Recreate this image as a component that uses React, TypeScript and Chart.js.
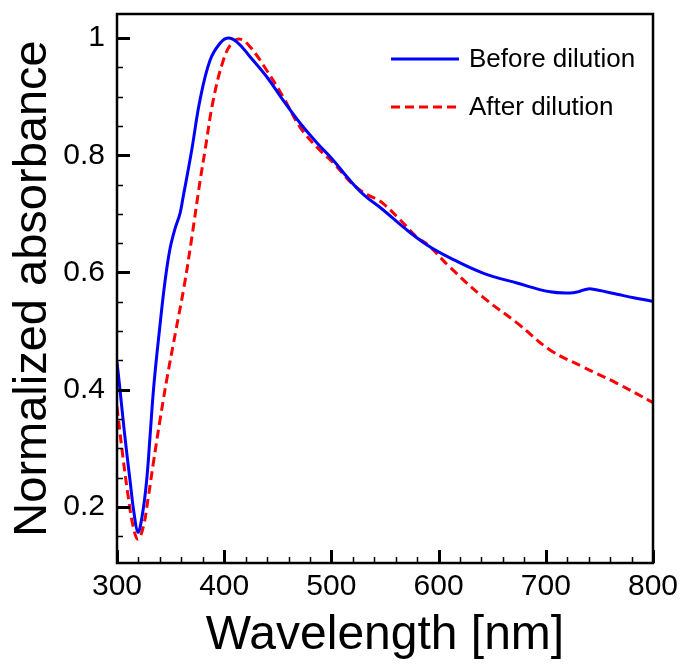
import React, { useEffect, useRef } from "react";
import { Chart, registerables } from "chart.js";

Chart.register(...registerables);

// ---- Data ----
const beforeWavelength = [
  300, 302.8, 307, 312.1, 316, 319.6, 323.5, 327.7, 330.8, 334.5, 340.1, 344.8, 349.4, 354,
  358.8, 362, 365.5, 370, 377.4, 386.8, 396.1, 403.5, 412, 424.1, 440, 454.9, 470.7, 486.6,
  501.5, 515.5, 530, 548.1, 568, 589.2, 610.6, 641.4, 673.1, 703.9, 722.6, 730, 739.4, 748,
  766.4, 782, 799.1, 800,
];
const beforeAbsorbance = [
  0.447, 0.4, 0.326, 0.246, 0.188, 0.157, 0.185, 0.246, 0.32, 0.41, 0.51, 0.585, 0.64,
  0.674, 0.701, 0.732, 0.766, 0.812, 0.894, 0.962, 0.991, 1.0, 0.993, 0.968, 0.933, 0.894,
  0.855, 0.821, 0.792, 0.761, 0.733, 0.707, 0.676, 0.647, 0.625, 0.599, 0.582, 0.567, 0.565,
  0.567, 0.572, 0.57, 0.563, 0.557, 0.551, 0.55,
];

const afterWavelength = [
  300, 304.4, 310.5, 315.2, 319.6, 324.5, 329.2, 333.9, 340.1, 346.4, 355, 362.5, 369, 377.4,
  382.1, 389.8, 399.2, 407, 414.7, 424.1, 439.6, 455.1, 470.7, 486.3, 501.8, 515.8, 525,
  534.1, 541, 548.1, 564, 579.9, 590.1, 610.6, 641.4, 673.1, 703.9, 734.7, 766.4, 799.1, 800,
];
const afterAbsorbance = [
  0.371, 0.302, 0.217, 0.166, 0.145, 0.166, 0.217, 0.275, 0.348, 0.417, 0.502, 0.575, 0.65,
  0.755, 0.808, 0.894, 0.962, 0.991, 0.998, 0.985, 0.945, 0.899, 0.848, 0.814, 0.787, 0.758,
  0.743, 0.732, 0.726, 0.718, 0.69, 0.66, 0.647, 0.609, 0.558, 0.514, 0.468, 0.439, 0.411,
  0.379, 0.378,
];

const seriesLabels = ["Before dilution", "After dilution"];
const xTitle = "Wavelength [nm]";
const yTitle = "Normalized absorbance";

const xMajorTicks = [300, 400, 500, 600, 700, 800];
const xMinorTicks = [
  320, 340, 360, 380, 420, 440, 460, 480, 520, 540, 560, 580, 620, 640, 660, 680, 720, 740, 760,
  780,
];
const yMajorTicks = [0.2, 0.4, 0.6, 0.8, 1];
const yMinorTicks = [0.15, 0.25, 0.3, 0.35, 0.45, 0.5, 0.55, 0.65, 0.7, 0.75, 0.85, 0.9, 0.95];

const FONT = "'Liberation Sans', Arial, Helvetica, sans-serif";

const framePlugin = {
  id: "frameTicks",
  afterDatasetsDraw(chart: any) {
    const { ctx, chartArea } = chart;
    const xs = chart.scales.x;
    const ys = chart.scales.y;
    const { left, right, top, bottom } = chartArea;
    ctx.save();
    ctx.strokeStyle = "#000";
    ctx.lineCap = "butt";
    const drawX = (vals: number[], len: number, w: number) => {
      ctx.lineWidth = w;
      ctx.beginPath();
      for (const v of vals) {
        const px = Math.round(xs.getPixelForValue(v)) + 0.5;
        ctx.moveTo(px, bottom);
        ctx.lineTo(px, bottom - len);
      }
      ctx.stroke();
    };
    const drawY = (vals: number[], len: number, w: number) => {
      ctx.lineWidth = w;
      ctx.beginPath();
      for (const v of vals) {
        const py = Math.round(ys.getPixelForValue(v)) + 0.5;
        ctx.moveTo(left, py);
        ctx.lineTo(left + len, py);
      }
      ctx.stroke();
    };
    drawX(xMinorTicks, 6, 1.5);
    drawX(xMajorTicks, 13, 3);
    drawY(yMinorTicks, 6, 1.5);
    drawY(yMajorTicks, 13, 3);
    ctx.lineWidth = 2.5;
    ctx.strokeRect(left, top, right - left, bottom - top);
    ctx.restore();
  },
};

const legendPlugin = {
  id: "customLegend",
  afterDraw(chart: any) {
    const { ctx } = chart;
    const rows = [59, 107];
    ctx.save();
    chart.data.datasets.forEach((ds: any, i: number) => {
      const y = rows[i];
      ctx.strokeStyle = ds.borderColor;
      ctx.lineWidth = ds.borderWidth;
      ctx.setLineDash(ds.borderDash || []);
      ctx.beginPath();
      ctx.moveTo(391, y);
      ctx.lineTo(459, y);
      ctx.stroke();
      ctx.setLineDash([]);
      ctx.fillStyle = "#000";
      ctx.font = `26px ${FONT}`;
      ctx.textAlign = "left";
      ctx.textBaseline = "middle";
      ctx.fillText(ds.label, 469, y + 1);
    });
    ctx.restore();
  },
};

export default function App() {
  const ref = useRef<HTMLCanvasElement | null>(null);

  useEffect(() => {
    if (!ref.current) return;
    const chart = new Chart(ref.current, {
      type: "line",
      data: {
        datasets: [
          {
            label: seriesLabels[0],
            data: beforeWavelength.map((x, i) => ({ x, y: beforeAbsorbance[i] })),
            borderColor: "#0000ff",
            borderWidth: 3,
            pointRadius: 0,
            tension: 0.4,
            fill: false,
          },
          {
            label: seriesLabels[1],
            data: afterWavelength.map((x, i) => ({ x, y: afterAbsorbance[i] })),
            borderColor: "#ff0000",
            borderWidth: 3,
            borderDash: [9, 5],
            pointRadius: 0,
            tension: 0.4,
            fill: false,
          },
        ],
      },
      options: {
        responsive: false,
        animation: false,
        devicePixelRatio: 1,
        layout: { padding: { left: 0, top: 14, right: 31, bottom: 0 } },
        plugins: {
          legend: { display: false },
          tooltip: { enabled: false },
        },
        scales: {
          x: {
            type: "linear",
            min: 300,
            max: 800,
            afterFit: (s: any) => {
              s.height = 101;
              s.paddingLeft = 0;
              s.paddingRight = 0;
            },
            afterBuildTicks: (s: any) => {
              s.ticks = xMajorTicks.map((v) => ({ value: v }));
            },
            grid: { display: false, drawTicks: false },
            border: { display: false },
            ticks: {
              autoSkip: false,
              maxRotation: 0,
              padding: 6,
              color: "#000",
              font: { family: FONT, size: 30 },
              callback: (v: any) => String(v),
            },
            title: {
              display: true,
              text: xTitle,
              color: "#000",
              font: { family: FONT, size: 48, lineHeight: 1 },
              padding: { top: 0, bottom: 4 },
            },
          },
          y: {
            type: "linear",
            min: 0.1045,
            max: 1.0409,
            afterFit: (s: any) => {
              s.width = 117;
              s.paddingTop = 0;
              s.paddingBottom = 0;
            },
            afterBuildTicks: (s: any) => {
              s.ticks = yMajorTicks.map((v) => ({ value: v }));
            },
            grid: { display: false, drawTicks: false },
            border: { display: false },
            ticks: {
              autoSkip: false,
              padding: 12,
              color: "#000",
              font: { family: FONT, size: 30 },
              callback: (v: any) => String(Math.round(Number(v) * 10) / 10),
            },
            title: {
              display: true,
              text: yTitle,
              color: "#000",
              font: { family: FONT, size: 47, lineHeight: 1 },
              padding: { top: 10, bottom: 0 },
            },
          },
        },
      },
      plugins: [framePlugin, legendPlugin],
    } as any);
    return () => chart.destroy();
  }, []);

  return (
    <div style={{ position: "fixed", left: 0, top: 0, width: 684, height: 664, background: "#fff" }}>
      <canvas ref={ref} width={684} height={664} style={{ display: "block" }} />
    </div>
  );
}
